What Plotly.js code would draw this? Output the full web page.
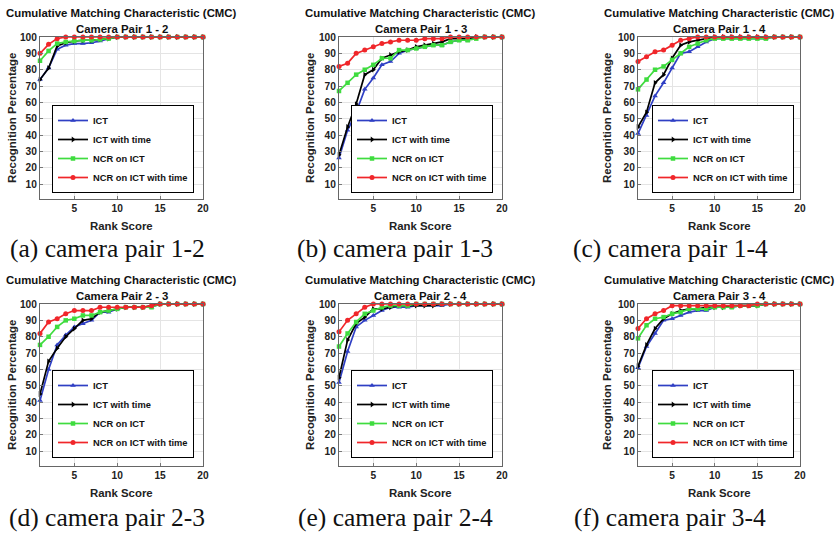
<!DOCTYPE html>
<html>
<head>
<meta charset="utf-8">
<script src="https://cdn.plot.ly/plotly-3.0.1.min.js"></script>
<style>html,body{margin:0;padding:0;background:#fff;}#chart{width:837px;height:536px;}</style>
</head>
<body>
<div id="chart"></div>
<script>
// ---------- data ----------
const ranks = [1,2,3,4,5,6,7,8,9,10,11,12,13,14,15,16,17,18,19,20];
const seriesNames = ["ICT", "ICT with time", "NCR on ICT", "NCR on ICT with time"];
const pairTitles = ["Camera Pair 1 - 2", "Camera Pair 1 - 3", "Camera Pair 1 - 4",
                    "Camera Pair 2 - 3", "Camera Pair 2 - 4", "Camera Pair 3 - 4"];
const captions = ["(a) camera pair 1-2", "(b) camera pair 1-3", "(c) camera pair 1-4",
                  "(d) camera pair 2-3", "(e) camera pair 2-4", "(f) camera pair 3-4"];
const xTickVals = [5, 10, 15, 20];
const yTickVals = [10, 20, 30, 40, 50, 60, 70, 80, 90, 100];

// pair 1-2
const p12_ict      = [74,81,92.5,95,96,96,96.5,97.5,99,100,100,100,100,100,100,100,100,100,100,100];
const p12_ictTime  = [74,81,94.5,96.5,97.5,98,98,98.5,99,100,100,100,100,100,100,100,100,100,100,100];
const p12_ncr      = [85.5,91.5,96,97,97.5,98,98,98.5,99,100,100,100,100,100,100,100,100,100,100,100];
const p12_ncrTime  = [90,95.5,99,100,100,100,100,100,100,100,100,100,100,100,100,100,100,100,100,100];
// pair 1-3
const p13_ict      = [26,43,54,68,75,83,85,90,92,93,94,95,95,97,98,98,100,100,100,100];
const p13_ictTime  = [28,45,59,77,80,87,89,91,92,94,95,96,97,99,99,99,100,100,100,100];
const p13_ncr      = [67,72,77,80,83,87,87,92,92,93,94,95,95,97,98,98,99,100,100,100];
const p13_ncrTime  = [82,84,90,92,94,96,97,98,98,98,99,99,99,100,100,100,100,100,100,100];
// pair 1-4
const p14_ict      = [41,52,64,72,81,90,91,94,97,99,99,99,99,99,99,99,100,100,100,100];
const p14_ictTime  = [45,54,72,77,87,95,97,98,99,100,100,100,100,100,100,100,100,100,100,100];
const p14_ncr      = [68,74,80,82,86,90,94,96,98,99,99,99,99,99,99,99,100,100,100,100];
const p14_ncrTime  = [85,88,91,92,95,98,99,100,100,100,100,100,100,100,100,100,100,100,100,100];
// pair 2-3
const p23_ict      = [41,60,75,81,86,88,90,95,95,97,98,98,98,98,100,100,100,100,100,100];
const p23_ictTime  = [45,65,73,80,85,90,91,95,96,97,98,98,98,99,100,100,100,100,100,100];
const p23_ncr      = [75,80,86,90,91,93,93,95,96,97,98,98,98,98,100,100,100,100,100,100];
const p23_ncrTime  = [82,89,91,94,96,96,96,98,98,98,98,98,98,99,100,100,100,100,100,100];
// pair 2-4
const p24_ict      = [52,71,86,90,93,96,98,98,98,99,99,99,99,100,100,100,100,100,100,100];
const p24_ictTime  = [55,78,88,92,97,97,98,99,99,99,99,99,100,100,100,100,100,100,100,100];
const p24_ncr      = [74,82,89,94,96,98,99,99,99,100,100,100,100,100,100,100,100,100,100,100];
const p24_ncrTime  = [83,90,94,98,100,100,100,100,100,100,100,100,100,100,100,100,100,100,100,100];
// pair 3-4
const p34_ict      = [61,74,82,90,91,93,95,96,96,98,98,98,99,99,99,100,100,100,100,100];
const p34_ictTime  = [62,75,85,91,94,96,97,97,98,98,98,99,99,99,99,100,100,100,100,100];
const p34_ncr      = [79,87,91,92,94,95,97,97,97,98,98,98,99,99,99,100,100,100,100,100];
const p34_ncrTime  = [85,91,94,96,99,99,99,99,99,99,99,99,99,99,100,100,100,100,100,100];

const allData = [
  [p12_ict, p12_ictTime, p12_ncr, p12_ncrTime],
  [p13_ict, p13_ictTime, p13_ncr, p13_ncrTime],
  [p14_ict, p14_ictTime, p14_ncr, p14_ncrTime],
  [p23_ict, p23_ictTime, p23_ncr, p23_ncrTime],
  [p24_ict, p24_ictTime, p24_ncr, p24_ncrTime],
  [p34_ict, p34_ictTime, p34_ncr, p34_ncrTime]
];

// ---------- styling ----------
const W = 837, H = 536;
const px = v => v / W;
const py = v => 1 - v / H;
const colors  = ["#2f3fc4", "#000000", "#3fdc3f", "#f0262a"];
const symbols = ["triangle-up", "triangle-right", "square", "circle"];
const msizes  = [5, 5, 4.5, 5];
const FONT = "Liberation Sans, Arial, Helvetica, sans-serif";

// plot pixel boxes: [left, right, top, bottom]
const cols = [[40, 203], [339, 502], [638, 800]];
const rows = [[37, 199], [304, 466]];
const legendRight = [194, 493, 794];
const legendBottom = [193, 458];
const captionX = [107, 395, 670];
const captionY = [248, 517];
const ylabX = [12, 310, 607];

const traces = [];
const layout = {
  width: W, height: H,
  margin: {l: 0, r: 0, t: 0, b: 0},
  paper_bgcolor: "#fff", plot_bgcolor: "#fff",
  showlegend: true,
  annotations: [],
  font: {family: FONT, color: "#222"}
};

for (let i = 0; i < 6; i++) {
  const c = i % 3, r = Math.floor(i / 3);
  const n = i + 1;
  const xa = n === 1 ? "x" : "x" + n;
  const ya = n === 1 ? "y" : "y" + n;
  const lg = n === 1 ? "legend" : "legend" + n;
  const [L, R] = cols[c];
  const [T, B] = rows[r];

  for (let s = 0; s < 4; s++) {
    traces.push({
      type: "scatter", mode: "lines+markers",
      x: ranks, y: allData[i][s],
      name: seriesNames[s],
      xaxis: xa, yaxis: ya, legend: lg,
      line: {color: colors[s], width: 1.7},
      marker: {color: colors[s], symbol: symbols[s], size: msizes[s]},
      cliponaxis: false
    });
  }

  const axBase = {
    showgrid: true, gridcolor: "#e4e4e4", gridwidth: 1,
    zeroline: false, showline: true, linecolor: "#666", linewidth: 1, mirror: true,
    ticks: "inside", ticklen: 3, tickcolor: "#777",
    tickfont: {family: FONT, size: 10.2, weight: "bold", color: "#222"},
    fixedrange: true
  };
  layout["xaxis" + (n === 1 ? "" : n)] = Object.assign({}, axBase, {
    domain: [px(L), px(R)], anchor: ya,
    range: [1, 20], tickvals: xTickVals, ticktext: xTickVals.map(String)
  });
  layout["yaxis" + (n === 1 ? "" : n)] = Object.assign({}, axBase, {
    domain: [py(B), py(T)], anchor: xa,
    range: [1, 100], tickvals: yTickVals, ticktext: yTickVals.map(String)
  });

  layout[lg] = {
    x: px(legendRight[c]), xanchor: "right",
    y: py(legendBottom[r]), yanchor: "bottom",
    xref: "paper", yref: "paper",
    bgcolor: "#fff", bordercolor: "#000", borderwidth: 1,
    font: {family: FONT, size: 9.3, weight: "bold", color: "#111"},
    tracegroupgap: 0, itemwidth: 30
  };

  const cx = (L + R) / 2;
  const titleTop = r === 0 ? 13 : 280;
  const ann = layout.annotations;
  ann.push({text: "Cumulative Matching Characteristic (CMC)", x: px(cx), y: py(titleTop),
            xref: "paper", yref: "paper", xanchor: "center", yanchor: "middle", showarrow: false,
            font: {family: FONT, size: 11.4, weight: "bold", color: "#111"}});
  ann.push({text: pairTitles[i], x: px(cx), y: py(titleTop + 16),
            xref: "paper", yref: "paper", xanchor: "center", yanchor: "middle", showarrow: false,
            font: {family: FONT, size: 11.4, weight: "bold", color: "#111"}});
  ann.push({text: "Recognition Percentage", x: px(ylabX[c]), y: py((T + B) / 2),
            xref: "paper", yref: "paper", xanchor: "center", yanchor: "middle", showarrow: false,
            textangle: -90,
            font: {family: FONT, size: 11.4, weight: "bold", color: "#222"}});
  ann.push({text: "Rank Score", x: px(cx), y: py(B + 27),
            xref: "paper", yref: "paper", xanchor: "center", yanchor: "middle", showarrow: false,
            font: {family: FONT, size: 11.4, weight: "bold", color: "#222"}});
  ann.push({text: captions[i], x: px(captionX[c]), y: py(captionY[r]),
            xref: "paper", yref: "paper", xanchor: "center", yanchor: "middle", showarrow: false,
            font: {family: "Liberation Serif, Times New Roman, serif", size: 25.5, color: "#111"}});
}

Plotly.newPlot("chart", traces, layout, {displayModeBar: false, staticPlot: true});
</script>
</body>
</html>
